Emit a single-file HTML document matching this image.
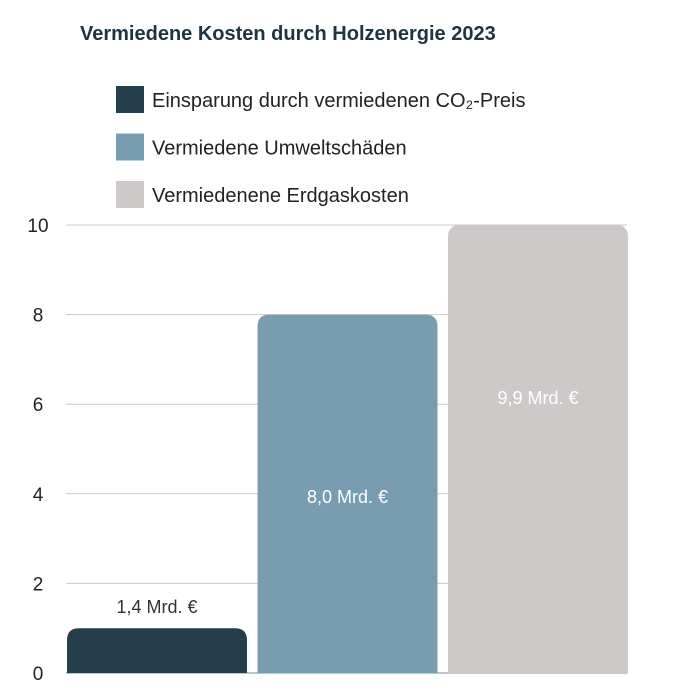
<!DOCTYPE html>
<html><head><meta charset="utf-8"><style>
body{margin:0;background:#fff;font-family:"Liberation Sans",sans-serif;}
svg{display:block}
</style></head><body>
<svg width="683" height="698">
<text x="80" y="40" font-size="20" font-weight="bold" fill="#1f3441">Vermiedene Kosten durch Holzenergie 2023</text>
<g id="legend"></g>
<g id="grid"></g>
<g id="bars"></g>
</svg>
<script>
const categories=["Einsparung durch vermiedenen CO₂-Preis","Vermiedene Umweltschäden","Vermiedenene Erdgaskosten"];
const values=[1.0,8.0,10.0];
const valueLabels=["1,4 Mrd. €","8,0 Mrd. €","9,9 Mrd. €"];
const ticks=[0,2,4,6,8,10];
const colors=["#243f4b","#789cb0","#cdc9c8"];
const NS="http://www.w3.org/2000/svg";
const y0=673,ppu=44.8,xL=66,xR=627;
const y=v=>y0-v*ppu;
function mk(t,a,p){const e=document.createElementNS(NS,t);for(const k in a)e.setAttribute(k,a[k]);p.appendChild(e);return e;}
const grid=document.getElementById('grid');
ticks.forEach(t=>{
 const l=mk('line',{x1:xL,x2:xR,y1:y(t),y2:y(t),stroke:t===0?'#888':'#c8c8c8','stroke-width':1},grid);
 
 
 const tx=mk('text',{x:38,y:y(t)+7,'font-size':19,fill:'#222','text-anchor':'middle'},grid);
 tx.textContent=t;
 
 
});
const leg=document.getElementById('legend');
categories.forEach((c,i)=>{
 const yy=86+i*47.5;
 const r=mk('rect',{x:116,y:yy,width:28,height:27,fill:colors[i]},leg);
 
 
 const t=mk('text',{x:152,y:yy+21,'font-size':20,fill:'#222'},leg);
 t.textContent=c;
 
 
});
const bars=document.getElementById('bars');
const bw=180,gap=10.5,rad=12;
values.forEach((v,i)=>{
 const x=67+i*(bw+gap),top=y(v),h=y0-top,r=Math.min(rad,h);
 const p=mk('path',{d:`M${x},${y0}V${top+r}Q${x},${top} ${x+r},${top}H${x+bw-r}Q${x+bw},${top} ${x+bw},${top+r}V${y0}Z`,fill:colors[i]},bars);
 
 
 const inside=v>3;
 const ly=inside?top+h*0.5-(i===2?87:-7):top-15;
 const t=mk('text',{x:x+bw/2,y:inside?(i===2?y(5)-45:y(4.0)+9):ly,'font-size':18,'text-anchor':'middle',fill:inside?'#fff':'#333'},bars);
 t.textContent=valueLabels[i];
 
 
});
</script>
</body></html>
